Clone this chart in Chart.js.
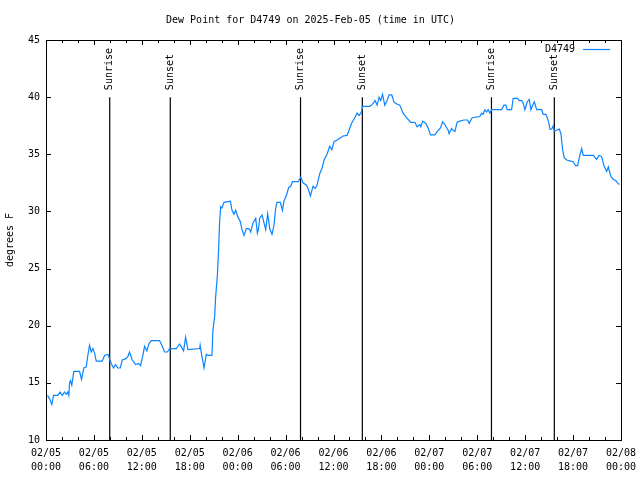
<!DOCTYPE html>
<html>
<head>
<meta charset="utf-8">
<script src="https://cdn.jsdelivr.net/npm/chart.js@4.4.1/dist/chart.umd.min.js"></script>
<style>
  html, body { margin: 0; padding: 0; background: #fff; }
  #wrap { width: 640px; height: 480px; }
</style>
</head>
<body>
<div id="wrap"><canvas id="dewChart" width="640" height="480"></canvas></div>
<script>
// hours since 2025-02-05 00:00 UTC
const hours = [
  0.19, 0.45, 0.73, 0.94, 1.48, 1.78, 2.03, 2.32, 2.53, 2.73, 2.86, 2.95, 3.07, 3.23, 3.48,
  4.20, 4.45, 4.74, 5.04, 5.24, 5.45, 5.66, 5.87, 6.08, 6.29, 7.04, 7.33, 7.75, 7.96, 8.17,
  8.46, 8.71, 9.00, 9.30, 9.55, 9.96, 10.25, 10.46, 10.80, 11.22, 11.59, 11.84, 12.13, 12.34,
  12.63, 12.88, 13.18, 14.22, 14.56, 14.85, 15.20, 15.48, 16.32, 16.73, 17.23, 17.48, 17.77,
  19.24, 19.30, 19.45, 19.65, 19.78, 20.08, 20.30, 20.78, 20.90, 21.12, 21.24, 21.46, 21.62,
  21.74, 21.87, 22.03, 22.28, 23.09, 23.29, 23.54, 23.75, 24.04, 24.34, 24.54, 24.79, 25.09,
  25.42, 25.63, 25.92, 26.26, 26.47, 26.59, 26.76, 27.05, 27.26, 27.51, 27.76, 28.01, 28.30,
  28.55, 28.76, 28.92, 29.35, 29.60, 29.80, 30.10, 30.39, 30.64, 30.86, 31.14, 31.56, 31.90,
  32.18, 32.61, 32.81, 33.11, 33.44, 33.70, 33.94, 34.28, 34.57, 34.82, 35.19, 35.53, 35.78,
  36.07, 36.57, 37.20, 37.70, 37.95, 38.25, 38.66, 38.95, 39.20, 39.50, 39.63, 40.54, 40.76,
  40.96, 41.21, 41.46, 41.71, 41.92, 42.14, 42.42, 42.71, 42.96, 43.30, 43.55, 43.80, 44.30,
  44.72, 45.14, 45.68, 46.18, 46.47, 46.81, 46.93, 47.18, 47.56, 47.85, 48.15, 48.69, 49.00,
  49.40, 49.66, 49.94, 50.19, 50.36, 50.48, 50.78, 50.98, 51.20, 51.48, 51.82, 52.32, 52.79,
  52.99, 53.36, 54.33, 54.54, 54.74, 54.96, 55.17, 55.37, 55.58, 55.80, 57.05, 57.34, 57.59,
  57.75, 58.30, 58.50, 59.05, 59.26, 59.56, 59.76, 59.97, 60.26, 60.51, 60.72, 60.89, 61.14,
  61.44, 62.06, 62.26, 62.60, 62.76, 62.98, 63.10, 63.32, 63.52, 63.64, 63.94, 64.27, 64.48,
  64.69, 64.89, 65.20, 65.70, 66.02, 66.32, 66.57, 66.78, 67.08, 67.28, 67.70, 68.53, 68.95,
  69.24, 69.58, 69.87, 70.21, 70.41, 70.71, 71.04, 71.34, 71.66, 71.88
];
const dewPoint = [
  13.9, 13.6, 13.1, 13.9, 13.9, 14.2, 13.9, 14.2, 14.0, 14.2, 13.9, 15.0, 15.2, 14.8, 16.0,
  16.0, 15.3, 16.3, 16.4, 17.4, 18.3, 17.7, 18.0, 17.6, 16.9, 16.9, 17.4, 17.5, 17.1, 16.7,
  16.3, 16.6, 16.3, 16.3, 17.0, 17.1, 17.3, 17.7, 17.0, 16.6, 16.7, 16.5, 17.4, 18.2,
  17.8, 18.4, 18.7, 18.7, 18.2, 17.7, 17.7, 18.0, 18.0, 18.4, 17.8, 19.0, 17.9,
  18.0, 18.3, 17.6, 16.85, 16.3, 17.5, 17.4, 17.4, 19.6, 20.8, 22.5, 24.4, 26.8,
  29.1, 30.4, 30.3, 30.8, 30.9, 30.1, 29.75, 30.1, 29.5, 29.1, 28.4, 27.9, 28.5,
  28.5, 28.2, 29.0, 29.4, 28.1, 28.4, 29.4, 29.7, 29.1, 28.4, 29.8, 28.5, 28.0,
  28.8, 30.3, 30.8, 30.8, 30.1, 30.9, 31.4, 32.1, 32.2, 32.6, 32.6, 32.6, 33.0,
  32.5, 32.3, 32.0, 31.35, 32.2, 32.0, 32.3, 33.3, 33.8, 34.5, 35.0, 35.7, 35.4,
  36.1, 36.3, 36.6, 36.65, 37.1, 37.7, 38.2, 38.6, 38.4, 38.7, 39.2, 39.2, 39.3,
  39.45, 39.7, 39.3, 40.0, 39.7, 40.25, 39.3, 39.7, 40.2, 40.2, 39.6, 39.45, 39.3,
  38.6, 38.2, 37.8, 37.8, 37.4, 37.6, 37.4, 37.9, 37.7, 37.3, 36.7, 36.7, 37.0,
  37.3, 37.85, 37.6, 37.3, 37.1, 36.8, 37.25, 37.1, 37.0, 37.8, 37.9, 38.0, 38.0,
  37.7, 38.2, 38.3, 38.6, 38.5, 38.9, 38.7, 38.9, 38.6, 38.9, 38.9, 39.3, 39.3,
  38.9, 38.9, 39.9, 39.9, 39.7, 39.7, 39.45, 38.9, 39.6, 39.8, 38.9, 39.2, 39.6,
  38.9, 38.9, 38.5, 38.5, 38.2, 37.7, 37.2, 37.2, 37.5, 37.0, 37.1, 37.2, 36.8,
  35.4, 34.7, 34.5, 34.4, 34.35, 34.0, 34.0, 34.7, 35.5, 34.9, 34.9, 34.9, 34.55,
  34.9, 34.8, 34.0, 33.5, 33.9, 33.1, 32.8, 32.7, 32.4, 32.4
];

const sunHours = [7.98, 15.56, 31.87, 39.61, 55.78, 63.65];
const sunLabels = ['Sunrise', 'Sunset', 'Sunrise', 'Sunset', 'Sunrise', 'Sunset'];
const sunLineTop = 40;

const xTickLabels = [
  ['02/05', '00:00'], ['02/05', '06:00'], ['02/05', '12:00'], ['02/05', '18:00'],
  ['02/06', '00:00'], ['02/06', '06:00'], ['02/06', '12:00'], ['02/06', '18:00'],
  ['02/07', '00:00'], ['02/07', '06:00'], ['02/07', '12:00'], ['02/07', '18:00'],
  ['02/08', '00:00']
];
const yMin = 10, yMax = 45, yStep = 5;
const xStep = 6, xMinorStep = 2;

const stationName = 'D4749';
const lineColor = '#0a84ff';
const FONT = 'DejaVu Sans Mono';

const datasets = [{
  label: stationName,
  data: hours.map((h, i) => ({x: h, y: dewPoint[i]})),
  borderColor: lineColor,
  backgroundColor: lineColor,
  borderWidth: 1.2,
  pointRadius: 0,
  tension: 0
}];
sunHours.forEach(function(h, i) {
  datasets.push({
    label: sunLabels[i],
    data: [{x: h, y: yMin}, {x: h, y: sunLineTop}],
    borderColor: '#000',
    borderWidth: 1.2,
    pointRadius: 0
  });
});

// frame, inward ticks, sun labels and key drawn on top
const gnuplotLook = {
  id: 'gnuplotLook',
  afterDraw(chart) {
    const ctx = chart.ctx;
    const a = chart.chartArea;
    const xs = chart.scales.x, ys = chart.scales.y;
    ctx.save();
    ctx.strokeStyle = '#000';
    ctx.lineWidth = 1;
    ctx.strokeRect(a.left + 0.5, a.top + 0.5, a.right - a.left, a.bottom - a.top);
    ctx.beginPath();
    for (let v = xs.min; v <= xs.max; v += xMinorStep) {
      const px = Math.round(xs.getPixelForValue(v)) + 0.5;
      const len = (v % xStep === 0) ? 5 : 3;
      ctx.moveTo(px, a.bottom); ctx.lineTo(px, a.bottom - len);
      ctx.moveTo(px, a.top); ctx.lineTo(px, a.top + len);
    }
    for (let v = yMin; v <= yMax; v += yStep) {
      const py = Math.round(ys.getPixelForValue(v)) + 0.5;
      ctx.moveTo(a.left, py); ctx.lineTo(a.left + 5, py);
      ctx.moveTo(a.right, py); ctx.lineTo(a.right - 5, py);
    }
    ctx.stroke();

    ctx.fillStyle = '#000';
    ctx.font = '10px "' + FONT + '"';
    sunHours.forEach(function(h, i) {
      const px = xs.getPixelForValue(h);
      const py = ys.getPixelForValue(sunLineTop) - 7;
      ctx.save();
      ctx.translate(px, py);
      ctx.rotate(-Math.PI / 2);
      ctx.textAlign = 'left';
      ctx.textBaseline = 'middle';
      ctx.fillText(sunLabels[i], 0, 0);
      ctx.restore();
    });

    // key
    const ky = a.top + 9.5;
    ctx.textAlign = 'right';
    ctx.textBaseline = 'middle';
    ctx.fillText(stationName, a.right - 46, ky);
    ctx.strokeStyle = lineColor;
    ctx.lineWidth = 1.2;
    ctx.beginPath();
    ctx.moveTo(a.right - 38, ky);
    ctx.lineTo(a.right - 11, ky);
    ctx.stroke();
    ctx.restore();
  }
};

const config = {
  type: 'line',
  data: {datasets: datasets},
  options: {
    responsive: false,
    animation: false,
    events: [],
    layout: {padding: {left: 0, right: 19, top: 0, bottom: 0}},
    plugins: {
      legend: {display: false},
      tooltip: {enabled: false},
      title: {
        display: true,
        text: 'Dew Point for ' + stationName + ' on 2025-Feb-05 (time in UTC)',
        color: '#000',
        font: {family: FONT, size: 10, weight: 'normal'},
        padding: {top: 14, bottom: 14}
      }
    },
    scales: {
      x: {
        type: 'linear',
        min: 0,
        max: 72,
        grid: {display: false, drawTicks: false},
        border: {display: false},
        ticks: {
          stepSize: xStep,
          autoSkip: false,
          maxRotation: 0,
          padding: 6,
          color: '#000',
          font: {family: FONT, size: 10, lineHeight: 1.4},
          callback: function(v) { return xTickLabels[Math.round(v / xStep)]; }
        },
        afterFit: function(s) { s.height = 40; s.paddingLeft = 0; s.paddingRight = 0; }
      },
      y: {
        min: yMin,
        max: yMax,
        grid: {display: false, drawTicks: false},
        border: {display: false},
        ticks: {
          stepSize: yStep,
          padding: 6,
          color: '#000',
          font: {family: FONT, size: 10}
        },
        title: {
          display: true,
          text: 'degrees F',
          color: '#000',
          font: {family: FONT, size: 10},
          padding: {top: 4, bottom: 0}
        },
        afterFit: function(s) { s.width = 46; s.paddingTop = 0; s.paddingBottom = 0; }
      }
    }
  },
  plugins: [gnuplotLook]
};

const chartDew = new Chart(document.getElementById('dewChart'), config);
</script>
</body>
</html>
